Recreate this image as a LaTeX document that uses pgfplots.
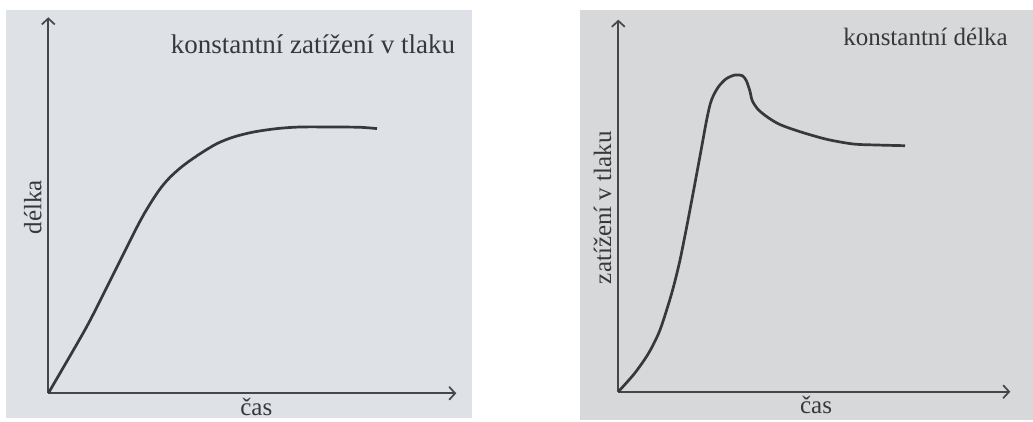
\documentclass[border=0pt]{standalone}
\usepackage{fontspec}
\setmainfont{Liberation Serif}
\usepackage{pgfplots}
\usepackage{pgfplotstable}
\pgfplotsset{compat=1.18}
\usetikzlibrary{arrows.meta}

\definecolor{pageL}{RGB}{222,225,229}
\definecolor{pageR}{RGB}{214,216,218}
\definecolor{ink}{RGB}{56,56,58}
\definecolor{axisink}{RGB}{70,70,72}

% creep: length under a constant compressive load
\pgfplotstableread{
t    L
0      0
35.3   61
52     93
88.7   166.3
102    189.7
112    204.7
122    216.3
135.3  228
152    239.7
168.7  249.7
185.3  256.3
205.3  261.3
228.7  264.7
252    266.3
285.3  266.3
312    266
328.7  264.7
}\creepdata

% stress relaxation: compressive load at constant length
\pgfplotstableread{
t      F
0      0
16     18
30     38
41     60
50     87
56     108
62     133
69     168
76     205
82.5   240
88     270
92     288
96     298
101    306
108    313
116.7  316.7
124    316
128    311
131.5  301
134    291
140    282
150    274
162    267
181.7  260
208.4  252.4
235    247.7
258.4  246.7
286.7  246
}\relaxdata

\pgfplotsset{
  sketch/.style={
    x=1pt, y=1pt,
    axis lines=left,
    axis line style={axisink, line width=1.7pt,
      -{Straight Barb[length=6pt,width=13pt,line width=1.7pt]}},
    xtick=\empty, ytick=\empty,
    clip=false,
    every axis label/.append style={font=\fontsize{25}{30}\selectfont, text=ink, inner sep=0pt},
    every axis title/.append style={font=\fontsize{25}{30}\selectfont, text=ink, inner sep=0pt},
  },
  curve/.style={ink, line width=2.7pt, smooth, tension=0.5, no marks},
}

\begin{document}
\begin{tikzpicture}
\useasboundingbox (0,0) rectangle (1033pt,421pt);
\fill[white] (0,0) rectangle (1033pt,421pt);
\fill[pageL] (6pt,3pt) rectangle (472pt,411pt);
\fill[pageR] (580pt,1pt) rectangle (1033pt,411pt);

\begin{axis}[sketch,
  at={(48.3pt,27.7pt)}, anchor=origin,
  xmin=0, xmax=408, ymin=0, ymax=376,
  title={konstantní zatížení v tlaku},
  title style={at={(axis cs:407,333.3)}, anchor=base east, font=\fontsize{27}{32}\selectfont},
  xlabel={čas},
  xlabel style={at={(axis cs:208,-22)}, anchor=base},
  ylabel={délka},
  ylabel style={at={(axis cs:-7,186)}, anchor=base},
]
\addplot[curve] table[x=t, y=L] {\creepdata};
\end{axis}

\begin{axis}[sketch,
  at={(618.3pt,29.3pt)}, anchor=origin,
  xmin=0, xmax=392, ymin=0, ymax=372,
  title={konstantní délka},
  title style={at={(axis cs:389.7,339.7)}, anchor=base east},
  xlabel={čas},
  xlabel style={at={(axis cs:197.7,-22)}, anchor=base},
  ylabel={zatížení v tlaku},
  ylabel style={at={(axis cs:-7.3,184)}, anchor=base},
]
\addplot[curve] table[x=t, y=F] {\relaxdata};
\end{axis}
\end{tikzpicture}
\end{document}
